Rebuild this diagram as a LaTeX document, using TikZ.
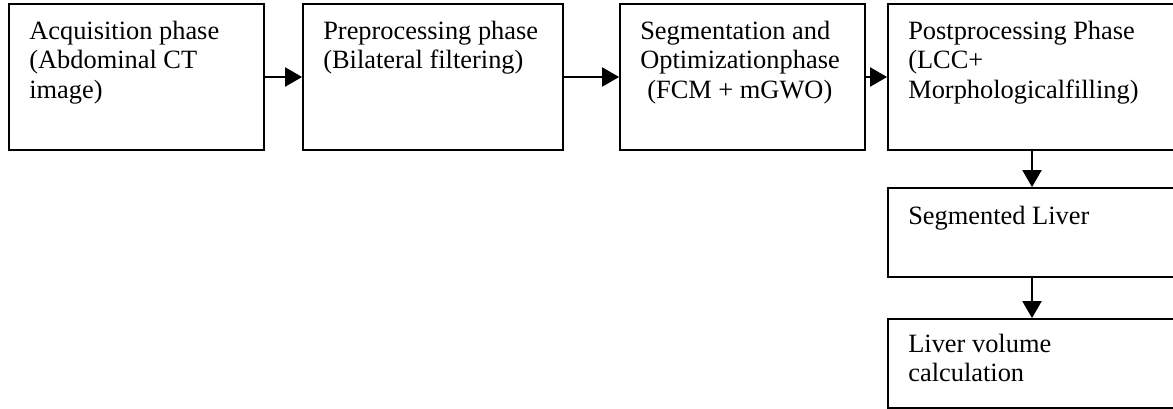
\documentclass[tikz,border=0pt]{standalone}
\usepackage{fontspec}
\setmainfont{Liberation Serif}
\usetikzlibrary{arrows.meta,calc}
\newcommand{\lines}[1]{\begin{tabular}[t]{@{}l@{}}#1\end{tabular}}
\tikzset{
  box/.style={draw=black, line width=1.8pt, fill=white, inner sep=0pt},
  lbl/.style={anchor=base west, inner sep=0pt, font=\fontsize{26.4}{29.8}\selectfont},
  conn/.style={line width=2pt, -{Triangle[length=17pt,width=19pt]}},
}
\begin{document}
\begin{tikzpicture}[x=1pt,y=-1pt]
\clip (0,0) rectangle (1173,409);
\fill[white] (0,0) rectangle (1173,409);
% boxes
\node[box, minimum width=255pt, minimum height=146pt] (b1) at (136.5,77) {};
\node[box, minimum width=260pt, minimum height=146pt] (b2) at (433,77) {};
\node[box, minimum width=245pt, minimum height=146pt] (b3) at (742.5,77) {};
\node[box, minimum width=288pt, minimum height=146pt] (b4) at (1032,77) {};
\node[box, minimum width=288pt, minimum height=89pt] (b5) at (1032,232.5) {};
\node[box, minimum width=288pt, minimum height=89pt] (b6) at (1032,363.5) {};
% labels
\node[lbl] (t1) at ($(b1.north west)+(21,36)$) {\lines{Acquisition phase\\(Abdominal CT\\image)}};
\node[lbl] (t2) at ($(b2.north west)+(21,36)$) {\lines{Preprocessing phase\\(Bilateral filtering)}};
\node[lbl] (t3) at ($(b3.north west)+(21,36)$) {\lines{Segmentation and\\Optimizationphase\\\hspace{7pt}(FCM + mGWO)}};
\node[lbl] (t4) at ($(b4.north west)+(21,36)$) {\lines{Postprocessing Phase\\(LCC+\\Morphologicalfilling)}};
\node[lbl] (t5) at ($(b5.north west)+(21,37)$) {Segmented Liver};
\node[lbl] (t6) at ($(b6.north west)+(21,34)$) {\lines{Liver volume\\calculation}};
% connectors
\draw[conn] (b1.east) -- (b2.west);
\draw[conn] (b2.east) -- (b3.west);
\draw[conn] (b3.east) -- (b4.west);
\draw[conn] (b4.south) -- (b5.north);
\draw[conn] (b5.south) -- (b6.north);
\end{tikzpicture}
\end{document}
